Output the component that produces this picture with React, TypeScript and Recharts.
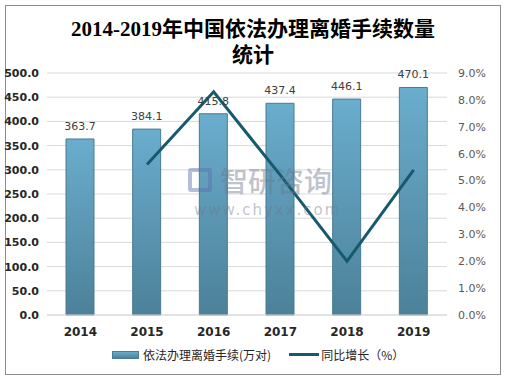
import React from 'react';
import { ComposedChart, Bar, Line, XAxis, YAxis, CartesianGrid, LabelList } from 'recharts';

const years = ['2014', '2015', '2016', '2017', '2018', '2019'];
const divorces = [363.7, 384.1, 415.8, 437.4, 446.1, 470.1];
const growth: (number | null)[] = [null, 5.6, 8.3, 5.2, 2.0, 5.4];
const leftTicks = [0, 50, 100, 150, 200, 250, 300, 350, 400, 450, 500];
const rightTicks = [0, 1, 2, 3, 4, 5, 6, 7, 8, 9];

const data = years.map((y, i) => ({ year: y, count: divorces[i], rate: growth[i] }));

const cjk = '"Noto Sans CJK SC", "Noto Sans", sans-serif';

export default function App() {
  return (
    <div style={{ position: 'absolute', left: 0, top: 0, width: 521, height: 382, background: '#fff', fontFamily: cjk }}>
      <div style={{ position: 'absolute', left: 5, top: 5, width: 494, height: 368, border: '1px solid #8c8c8c' }} />
      <div
        style={{
          position: 'absolute', left: 0, top: 16, width: 506, textAlign: 'center',
          fontFamily: '"Liberation Serif", "Noto Sans CJK SC", serif', fontWeight: 'bold',
          fontSize: 21, lineHeight: '26px', color: '#000',
        }}
      >
        2014-2019年中国依法办理离婚手续数量
        <br />
        统计
      </div>
      <ComposedChart
        width={521}
        height={382}
        data={data}
        margin={{ top: 73, right: 0, bottom: 42, left: 0 }}
        style={{ position: 'absolute', left: 0, top: 0 }}
      >
        <defs>
          <linearGradient id="barFill" x1="0" y1="0" x2="0" y2="1">
            <stop offset="0%" stopColor="#6aadcd" />
            <stop offset="100%" stopColor="#4c8199" />
          </linearGradient>
        </defs>
        <CartesianGrid vertical={false} stroke="#d9d9d9" yAxisId="left" />
        <XAxis
          dataKey="year"
          height={25}
          axisLine={{ stroke: '#d9d9d9' }}
          tickLine={false}
          tickMargin={6}
          tick={{ fill: '#262626', fontSize: 12, fontWeight: 'bold', fontFamily: '"DejaVu Sans", sans-serif' }}
        />
        <YAxis
          yAxisId="left"
          orientation="left"
          width={47}
          domain={[0, 500]}
          ticks={leftTicks}
          interval={0}
          axisLine={false}
          tickLine={false}
          tickSize={0}
          tickMargin={8}
          tickFormatter={(v) => Number(v).toFixed(1)}
          tick={{ fill: '#262626', fontSize: 11, fontWeight: 'bold', fontFamily: '"DejaVu Sans", sans-serif' }}
        />
        <YAxis
          yAxisId="right"
          orientation="right"
          width={74}
          domain={[0, 9]}
          ticks={rightTicks}
          interval={0}
          axisLine={false}
          tickLine={false}
          tickSize={0}
          tickMargin={11}
          tickFormatter={(v) => Number(v).toFixed(1) + '%'}
          tick={{ fill: '#595959', fontSize: 11, fontFamily: '"DejaVu Sans", sans-serif' }}
        />
        <Bar yAxisId="left" dataKey="count" fill="url(#barFill)" stroke="#4a7b91" strokeWidth={1} barSize={28} isAnimationActive={false}>
          <LabelList
            dataKey="count"
            position="top"
            offset={9}
            formatter={(v: any) => Number(v).toFixed(1)}
            style={{ fill: '#404040', fontSize: 11, fontFamily: '"DejaVu Sans", sans-serif' }}
          />
        </Bar>
        <Line
          yAxisId="right"
          dataKey="rate"
          stroke="#175a6e"
          strokeWidth={3}
          dot={false}
          activeDot={false}
          connectNulls={false}
          isAnimationActive={false}
        />
      </ComposedChart>
      {/* watermark */}
      <div style={{ position: 'absolute', left: 188, top: 160, zIndex: 2, color: 'rgba(110,120,140,0.45)', pointerEvents: 'none' }}>
        <div style={{ display: 'flex', alignItems: 'center', height: 40 }}>
          <span style={{ display: 'inline-block', width: 24, height: 24, border: '4px solid rgba(90,110,170,0.45)', borderRadius: 3, boxSizing: 'border-box', marginRight: 8 }} />
          <span style={{ fontSize: 28, lineHeight: '40px', fontWeight: 500 }}>智研咨询</span>
        </div>
        <div style={{ marginTop: 1, fontSize: 15, lineHeight: '18px', letterSpacing: 2, paddingLeft: 6, fontFamily: '"DejaVu Sans", sans-serif' }}>
          www.chyxx.com
        </div>
      </div>
      <div style={{ position: 'absolute', left: 112, top: 346, display: 'flex', alignItems: 'center', fontSize: 12, color: '#262626' }}>
        <span style={{ display: 'inline-block', width: 25, height: 6, background: 'linear-gradient(#6aadcd, #4c8199)', border: '1px solid #4a7b91', marginRight: 4 }} />
        <span>依法办理离婚手续(万对)</span>
        <span style={{ display: 'inline-block', width: 30, height: 3, background: '#175a6e', marginLeft: 18, marginRight: 2 }} />
        <span>同比增长（%）</span>
      </div>
    </div>
  );
}
